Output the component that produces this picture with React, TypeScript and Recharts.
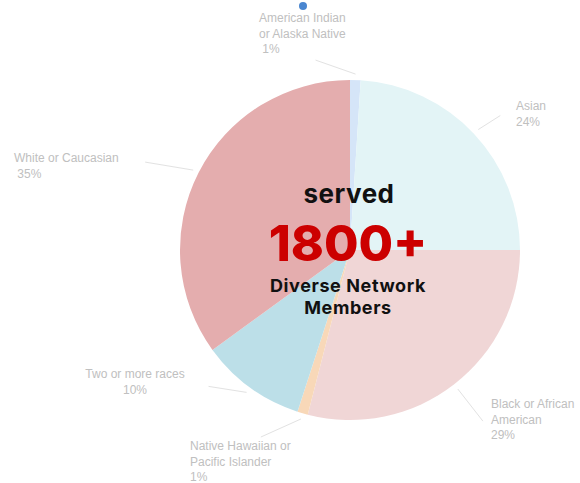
import { PieChart, Pie, Cell } from 'recharts';

const categories = [
    'American Indian or Alaska Native',
    'Asian',
    'Black or African American',
    'Native Hawaiian or Pacific Islander',
    'Two or more races',
    'White or Caucasian',
];
const shares = [1, 24, 29, 1, 10, 35];
const labelLines = [
    ['American Indian', 'or Alaska Native', ' 1%'],
    ['Asian', '24%'],
    ['Black or African', 'American', '29%'],
    ['Native Hawaiian or', 'Pacific Islander', '1%'],
    ['Two or more races', '10%'],
    ['White or Caucasian', ' 35%'],
];
const colors = ['#d5e5f8', '#e3f4f6', '#f0d6d6', '#f8d8b8', '#bcdfe8', '#e4adae'];

const data = categories.map((name, i) => ({ name, value: shares[i] }));

// leader line end (relative to slice edge point) and text block placement (relative to centre)
const layout = [
    { ldx: -40, ldy: -14, tx: -91, ty: -228, anchor: 'start' },
    { ldx: 22, ldy: -14, tx: 166, ty: -140, anchor: 'start' },
    { ldx: 25, ldy: 32, tx: 141, ty: 158, anchor: 'start' },
    { ldx: -40, ldy: 18, tx: -160, ty: 200, anchor: 'start' },
    { ldx: -38, ldy: -6, tx: -215, ty: 128, anchor: 'middle' },
    { ldx: -48, ldy: -8, tx: -336, ty: -88, anchor: 'start' },
];

const RAD = Math.PI / 180;

function renderLabel(props: any) {
    const { cx, cy, midAngle, outerRadius, index } = props;
    const l = layout[index];
    const sx = cx + (outerRadius + 6) * Math.cos(-midAngle * RAD);
    const sy = cy + (outerRadius + 6) * Math.sin(-midAngle * RAD);
    return (
        <g>
            <line x1={sx} y1={sy} x2={sx + l.ldx} y2={sy + l.ldy} stroke="#e2e2e2" strokeWidth={1} />
            <text
                x={cx + l.tx}
                y={cy + l.ty}
                textAnchor={l.anchor}
                fill="#c0c0c0"
                fontSize={12}
                fontFamily="Liberation Sans, Arial, sans-serif"
            >
                {labelLines[index].map((t, j) => (
                    <tspan key={j} x={cx + l.tx} dy={j === 0 ? 0 : 15.5} style={{ whiteSpace: 'pre' }}>
                        {t}
                    </tspan>
                ))}
            </text>
        </g>
    );
}

export default function App() {
    return (
        <div style={{ position: 'absolute', left: 0, top: 0, width: 580, height: 483, background: '#fff' }}>
            <PieChart width={580} height={483} margin={{ top: 0, right: 0, bottom: 0, left: 0 }}>
                <Pie
                    data={data}
                    dataKey="value"
                    nameKey="name"
                    cx={350}
                    cy={250}
                    outerRadius={170}
                    startAngle={90}
                    endAngle={-270}
                    stroke="none"
                    label={renderLabel}
                    labelLine={false}
                    isAnimationActive={false}
                >
                    {data.map((d, i) => (
                        <Cell key={d.name} fill={colors[i]} />
                    ))}
                </Pie>
            </PieChart>
            <svg width={580} height={483} style={{ position: 'absolute', left: 0, top: 0, pointerEvents: 'none' }}>
                <circle cx={303} cy={6} r={4} fill="#4a86d0" />
                <text x={349} y={203} textAnchor="middle" fontFamily="Inter, sans-serif" fontWeight={700} fontSize={26} letterSpacing={0.5} fill="#111">
                    served
                </text>
                <text x={348} y={261} textAnchor="middle" fontFamily="Inter, sans-serif" fontWeight={800} fontSize={50} fill="#cc0000">
                    1800+
                </text>
                <text x={348} y={292} textAnchor="middle" fontFamily="Inter, sans-serif" fontWeight={700} fontSize={18} letterSpacing={0.6} fill="#111">
                    Diverse Network
                </text>
                <text x={348} y={314} textAnchor="middle" fontFamily="Inter, sans-serif" fontWeight={700} fontSize={18} letterSpacing={0.6} fill="#111">
                    Members
                </text>
            </svg>
        </div>
    );
}
